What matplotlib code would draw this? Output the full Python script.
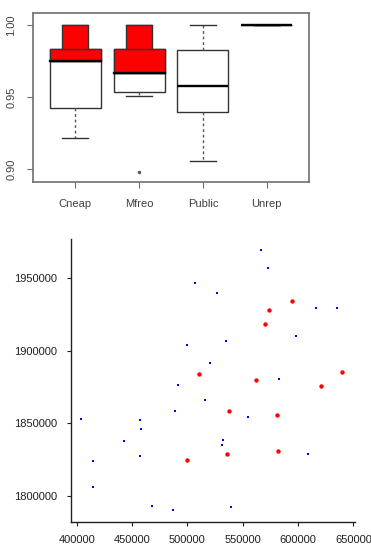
import matplotlib
matplotlib.use("Agg")
import matplotlib.pyplot as plt
import numpy as np

plt.rcParams['font.family'] = ['Liberation Sans', 'DejaVu Sans']

# ---- Box plot data ----
groups = ["Cneap", "Mfreo", "Public", "Unrep"]
q1 = [0.9426, 0.9533, 0.9394, 1.0]
med = [0.9752, 0.9665, 0.9576, 1.0]
q3 = [0.9831, 0.9833, 0.9824, 1.0]
whislo = [0.9218, 0.9509, 0.9053, 1.0]
whishi = [1.0, 1.0, 1.0, 1.0]
fliers = [[], [0.898], [], []]
red_groups = [0, 1]  # groups with red overlay

# ---- Scatter data ----
blue_x = [566566, 573193, 506928, 526807, 616566, 635542, 598193, 535241,
          499398, 520783, 582831, 491867, 515964, 488855, 554518, 403916,
          456928, 458133, 443072, 532229, 531627, 457530, 414458, 609337,
          415060, 468373, 486747, 539458]
blue_y = [1969580, 1956925, 1947031, 1939898, 1929314, 1929774, 1909987, 1906995,
          1904004, 1891809, 1880764, 1876392, 1865808, 1858215, 1854533, 1852922,
          1852232, 1846249, 1837506, 1838196, 1834975, 1827152, 1824160, 1828993,
          1806213, 1793097, 1790336, 1791947]
red_x = [594880, 573494, 570181, 510542, 562048, 640060, 620482, 537952,
         581325, 499398, 536145, 582229]
red_y = [1934146, 1928163, 1918500, 1883985, 1879844, 1885136, 1875932, 1858675,
         1855914, 1824390, 1828763, 1831064]

xticks = [400000, 450000, 500000, 550000, 600000, 650000]
yticks = [1800000, 1850000, 1900000, 1950000]
box_yticks = [0.90, 0.95, 1.00]

W, H = 371, 547
fig = plt.figure(figsize=(W / 100, H / 100), dpi=100)
txt = '#404040'
frame = '#707070'

# ---- Top: boxplot ----
ax1 = fig.add_axes([33 / W, 1 - 182 / H, (309 - 33) / W, (182 - 13) / H])
pos = np.arange(1, len(groups) + 1)
stats = []
for i in range(len(groups)):
    stats.append(dict(q1=q1[i], med=med[i], q3=q3[i], whislo=whislo[i],
                      whishi=whishi[i], fliers=fliers[i], label=groups[i]))
ax1.bxp(stats, positions=pos, widths=0.8, patch_artist=True,
        boxprops=dict(facecolor='white', edgecolor='#333333', linewidth=1.0),
        medianprops=dict(color='black', linewidth=1.7),
        whiskerprops=dict(color='#555555', linewidth=1.0, linestyle=(0, (2, 2))),
        capprops=dict(color='#333333', linewidth=1.0),
        flierprops=dict(marker='o', markersize=1.5, markerfacecolor='#555555',
                        markeredgecolor='#555555'),
        capwidths=0.4)
for i in red_groups:
    ax1.bar(pos[i], q3[i] - med[i], bottom=med[i], width=0.8, color='#ff0000',
            edgecolor='#333333', linewidth=1.0, zorder=3)
    ax1.bar(pos[i], whishi[i] - q3[i], bottom=q3[i], width=0.4, color='#ff0000',
            edgecolor='#333333', linewidth=1.0, zorder=3)
    ax1.plot([pos[i] - 0.4, pos[i] + 0.4], [med[i], med[i]], color='black',
             linewidth=1.7, zorder=4)
ax1.set_xlim(0.34, 4.66)
ax1.set_ylim(0.891, 1.0083)
ax1.set_yticks(box_yticks)
ax1.set_yticklabels([f"{v:.2f}" for v in box_yticks], rotation=90, va='center',
                    fontsize=8, color=txt)
ax1.set_xticks(pos)
ax1.set_xticklabels(groups, fontsize=8, color=txt)
ax1.tick_params(axis='both', length=4, color=frame, pad=8)
for s in ax1.spines.values():
    s.set_color(frame)
    s.set_linewidth(1.2)

# ---- Bottom: scatter ----
ax2 = fig.add_axes([71 / W, 1 - 521.5 / H, (355 - 71) / W, (521.5 - 239) / H])
ax2.scatter(blue_x, blue_y, s=4, color='#0000ff', marker='s', linewidths=0)
ax2.scatter(red_x, red_y, s=10, color='#ff0000', marker='o', linewidths=0)
ax2.set_xlim(394846, 651356)
ax2.set_ylim(1782182, 1977279)
ax2.set_xticks(xticks)
ax2.set_xticklabels([str(v) for v in xticks], fontsize=8, color='#202020')
ax2.set_yticks(yticks)
ax2.set_yticklabels([str(v) for v in yticks], fontsize=8, color='#202020')
ax2.spines['top'].set_visible(False)
ax2.spines['right'].set_visible(False)
for s in ('left', 'bottom'):
    ax2.spines[s].set_color('#202020')
    ax2.spines[s].set_linewidth(1.0)
ax2.tick_params(axis='both', length=3, color='#202020', pad=7)

fig.savefig("out.png", dpi=100)
